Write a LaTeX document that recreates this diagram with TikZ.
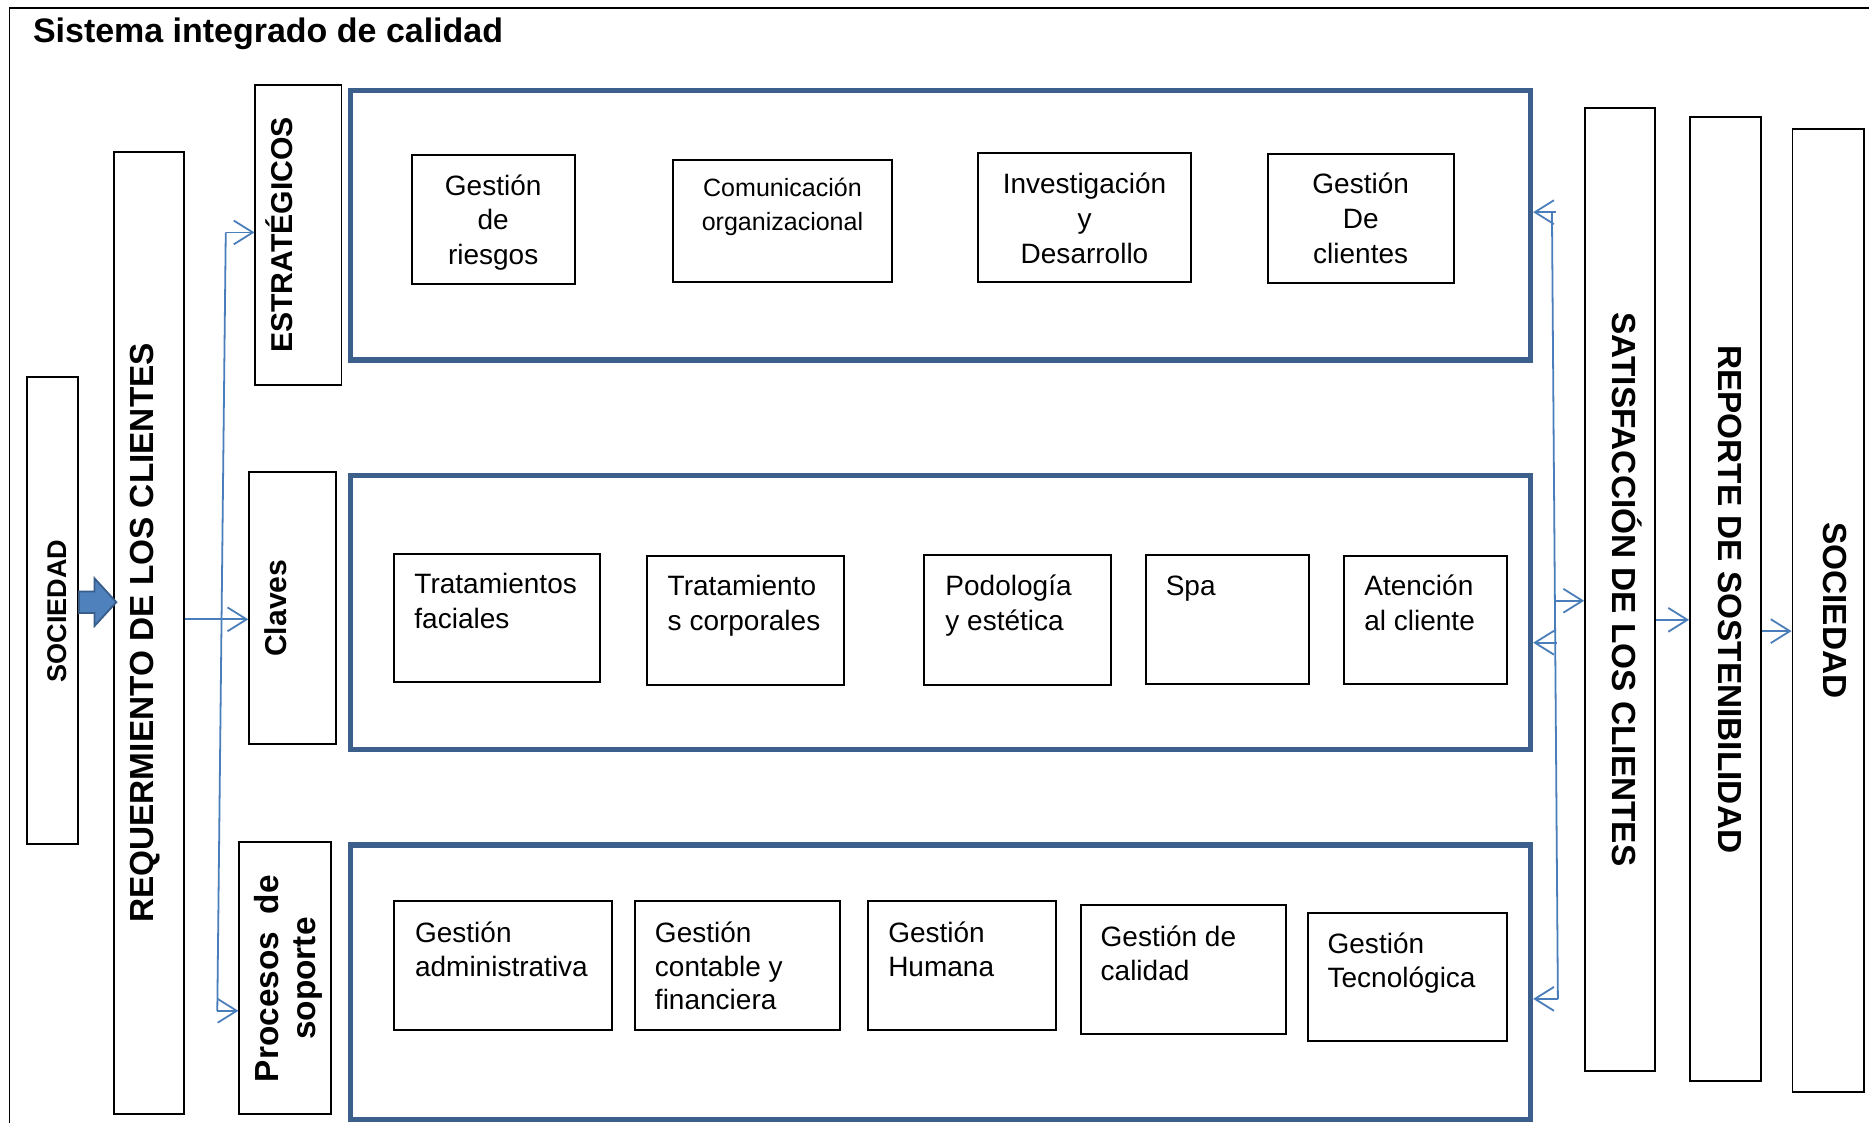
\documentclass[tikz,border=0pt]{standalone}
\usepackage{fontspec}
\setmainfont{Liberation Sans}
\usetikzlibrary{arrows.meta,calc}
\definecolor{boxblue}{HTML}{3D5F8C}
\definecolor{arrowblue}{HTML}{4A7EBB}
\definecolor{blockfill}{HTML}{4F81BD}
\definecolor{blockline}{HTML}{385D8A}
\newcommand\MyLinesL[2][29]{\vtop{\baselineskip=#1pt\halign{##\hfil\cr#2\crcr}}}
\newcommand\MyLinesC[2][29.3]{\vtop{\baselineskip=#1pt\halign{\hfil##\hfil\cr#2\crcr}}}
\begin{document}
\begin{tikzpicture}[x=1pt,y=-1pt,
  bbox/.style={draw=black,line width=1.6pt,inner sep=0pt,rectangle},
  bluebox/.style={draw=boxblue,line width=4.5pt,inner sep=0pt,rectangle},
  itext/.style={font=\fontsize{23.5}{29}\selectfont,inner sep=0pt},
  vbig/.style={font=\bfseries\fontsize{28}{33}\selectfont,inner sep=0pt,anchor=base},
  vmid/.style={font=\bfseries\fontsize{25.3}{30}\selectfont,inner sep=0pt,anchor=base},
  conn/.style={draw=arrowblue,line width=1.5pt},
  >={Straight Barb[length=16pt,width=20pt]}]
\useasboundingbox (0,0) rectangle (1568,942);
\fill[white] (0,0) rectangle (1568,942);
% outer frame
\draw[line width=1.6pt] (8,942) -- (8,7) -- (1568,7);
\node[font=\bfseries\fontsize{28.5}{34}\selectfont,anchor=base west,inner sep=0pt] (title) at (27.5,36) {Sistema integrado de calidad};

% left column boxes
\node[bbox,minimum width=43.2,minimum height=392.2] (socL) at (43.9,512.1) {};
\node[bbox,minimum width=58.6,minimum height=807.4] (req) at (125.1,530.9) {};
\node[bbox,minimum width=72.2,minimum height=251.7] (estr) at (250.4,197.15) {};
\node[bbox,minimum width=72.6,minimum height=228.5] (clav) at (245.4,509.95) {};
\node[bbox,minimum width=76.7,minimum height=228.3] (proc) at (239.15,820.45) {};
\node[font=\bfseries\fontsize{22.7}{27}\selectfont,inner sep=0pt,anchor=base,rotate=90] (socLt) at (56,512.5) {SOCIEDAD};
\node[vbig,rotate=90] (reqt) at (129,531) {REQUERMIENTO DE LOS CLIENTES};
\node[vmid,rotate=90] (estrt) at (245.6,197) {ESTRATÉGICOS};
\node[vmid,rotate=90] (clavt) at (240.5,510.3) {Claves};
\node[vbig,rotate=90] (proct1) at (233.5,821) {\makebox[173.5pt][s]{Procesos de}};
\node[vbig,rotate=90] (proct2) at (264.3,821) {soporte};

% right column boxes
\node[bbox,minimum width=58.7,minimum height=808] (sat) at (1359.15,494.5) {};
\node[bbox,minimum width=59.4,minimum height=808.2] (rep) at (1447.5,502.6) {};
\node[bbox,minimum width=59.7,minimum height=807.8] (socR) at (1533.65,512.1) {};
\node[vbig,rotate=-90] (satt) at (1353,494.5) {SATISFACCIÓN DE LOS CLIENTES};
\node[vbig,rotate=-90] (rept) at (1442,502.7) {REPORTE DE SOSTENIBILIDAD};
\node[vbig,rotate=-90] (socRt) at (1529.6,512) {SOCIEDAD};

% blue process boxes
\node[bluebox,minimum width=990,minimum height=226] (B1) at (789,189) {};
\node[bluebox,minimum width=990,minimum height=230] (B2) at (789,514) {};
\node[bluebox,minimum width=990,minimum height=230] (B3) at (789,824) {};

% row 1
\node[bbox,minimum width=136.9,minimum height=108.2] (r11) at (413.75,184.1) {};
\node[bbox,minimum width=184.3,minimum height=101.9] (r12) at (656.45,185.35) {};
\node[bbox,minimum width=178.1,minimum height=108.9] (r13) at (909.85,182.45) {};
\node[bbox,minimum width=156.3,minimum height=108.1] (r14) at (1141.55,183.45) {};
\node[itext,anchor=base] (t11) at (413.75,163.6) {\MyLinesC[29.2]{Gestión\cr de\cr riesgos}};
\node[itext,font=\fontsize{21}{28}\selectfont,anchor=base] (t12) at (656.45,165) {\MyLinesC[28.5]{Comunicación\cr organizacional}};
\node[itext,anchor=base] (t13) at (909.85,162.2) {\MyLinesC[29.4]{Investigación\cr y\cr Desarrollo}};
\node[itext,anchor=base] (t14) at (1141.55,162.2) {\MyLinesC[29.4]{Gestión\cr De\cr clientes}};

% row 2
\node[bbox,minimum width=172.4,minimum height=107.7] (r21) at (417,518.35) {};
\node[bbox,minimum width=165.4,minimum height=108] (r22) at (625.5,520.4) {};
\node[bbox,minimum width=156.4,minimum height=108.6] (r23) at (853.6,520.1) {};
\node[bbox,minimum width=136.8,minimum height=108.4] (r24) at (1029.8,520) {};
\node[bbox,minimum width=136.8,minimum height=107.7] (r25) at (1195.6,520.05) {};
\node[itext,anchor=base west] (t21) at (347.5,498) {\MyLinesL[29]{Tratamientos\cr faciales}};
\node[itext,anchor=base west] (t22) at (560,499.7) {\MyLinesL[29]{Tratamiento\cr s corporales}};
\node[itext,anchor=base west] (t23) at (793,499.7) {\MyLinesL[29]{Podología\cr y estética}};
\node[itext,anchor=base west] (t24) at (977.8,499.7) {Spa};
\node[itext,anchor=base west] (t25) at (1144.4,499.7) {\MyLinesL[29]{Atención\cr al cliente}};

% row 3
\node[bbox,minimum width=182.9,minimum height=108.4] (r31) at (422.25,810) {};
\node[bbox,minimum width=172,minimum height=108.4] (r32) at (618.7,810) {};
\node[bbox,minimum width=157.8,minimum height=108.4] (r33) at (807.3,810) {};
\node[bbox,minimum width=171.8,minimum height=108] (r34) at (992.7,813.5) {};
\node[bbox,minimum width=167,minimum height=107.8] (r35) at (1180.5,819.7) {};
\node[itext,anchor=base west] (t31) at (348,790.5) {\MyLinesL[28.9]{Gestión\cr administrativa}};
\node[itext,anchor=base west] (t32) at (549.3,790.5) {\MyLinesL[28.4]{Gestión\cr contable y\cr financiera}};
\node[itext,anchor=base west] (t33) at (745,790.5) {\MyLinesL[28.9]{Gestión\cr Humana}};
\node[itext,anchor=base west] (t34) at (923.2,794.2) {\MyLinesL[28.5]{Gestión de\cr calidad}};
\node[itext,anchor=base west] (t35) at (1113.6,800.3) {\MyLinesL[28.3]{Gestión\cr Tecnológica}};

% block arrow SOCIEDAD -> REQUERIMIENTO
\coordinate (yb) at (0,505.2);
\draw[fill=blockfill,draw=blockline,line width=1.5pt,line join=miter]
  (socL.east |- yb) ++(0,-9) -- ++(13,0) -- ++(0,-11) -- ++(18.3,20) -- ++(-18.3,20) -- ++(0,-11) -- ++(-13,0) -- cycle;

% left connectors
\coordinate (lt) at (189.4,195);
\coordinate (lb) at (182.3,848);
\coordinate (yc) at (0,519.6);
\draw[conn] (lt) -- (lb);
\draw[conn,->] (lt) -- (estr.west |- lt);
\draw[conn,->] (lb) -- (proc.west |- lb);
\draw[conn,->] (req.east |- yc) -- (clav.west |- yc);

% right connectors
\coordinate (rt) at (1302,178);
\coordinate (rb) at (1307,838);
\coordinate (ra1) at (1305.5,178);
\coordinate (ra2) at (1306,539.2);
\coordinate (rs) at (1305,504);
\coordinate (y2) at (0,520);
\coordinate (y3) at (0,529.5);
\draw[conn] (rt) -- (rb);
\draw[conn,->] (ra1) -- (B1.east |- ra1);
\draw[conn,->] (ra2) -- (B2.east |- ra2);
\draw[conn,->] (rb) -- (B3.east |- rb);
\draw[conn,->] (rs) -- (sat.west |- rs);
\draw[conn,->] (sat.east |- y2) -- (rep.west |- y2);
\draw[conn,->] (rep.east |- y3) -- (socR.west |- y3);
\end{tikzpicture}
\end{document}
